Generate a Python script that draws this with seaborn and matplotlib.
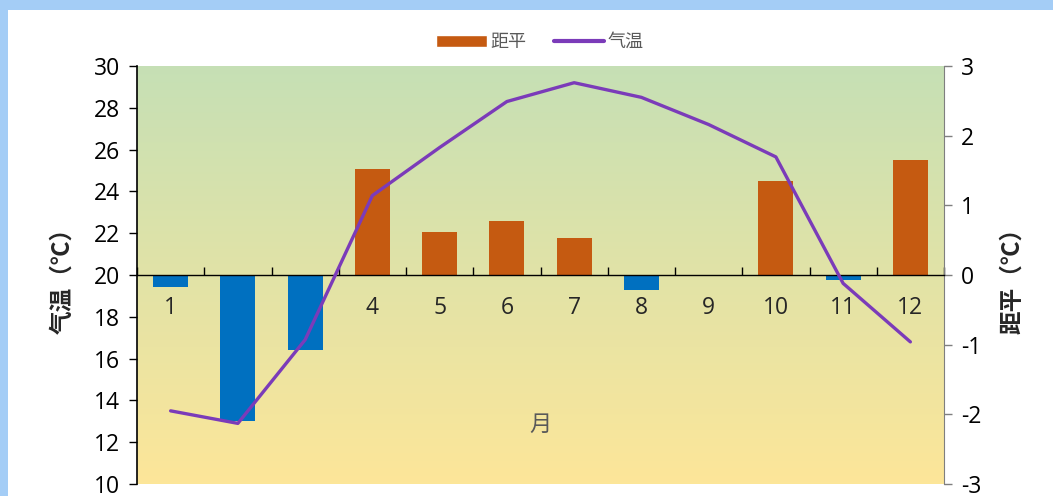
import numpy as np
import pandas as pd
import matplotlib
matplotlib.use("Agg")
import matplotlib.pyplot as plt
import seaborn as sns
from matplotlib.patches import Rectangle
from matplotlib.lines import Line2D
from matplotlib.patches import Patch

months = [str(m) for m in range(1, 13)]
temp = [13.5, 12.9, 16.9, 23.8, 26.1, 28.3, 29.2, 28.5, 27.2, 25.65, 19.6, 16.8]
anomaly = [-0.17, -2.10, -1.07, 1.52, 0.62, 0.77, 0.53, -0.22, 0.0, 1.35, -0.07, 1.65]

df = pd.DataFrame({"month": months, "temp": temp, "anomaly": anomaly})
df["sign"] = np.where(df["anomaly"] >= 0, "pos", "neg")

sns.set_style("white")
plt.rcParams["font.family"] = ["Open Sans", "Noto Sans CJK SC", "DejaVu Sans"]
plt.rcParams["axes.unicode_minus"] = False

fig = plt.figure(figsize=(10.53, 4.96), dpi=100, facecolor="#a4cdf6")
fig.patches.append(Rectangle((8 / 1053, 0), 1 - 8 / 1053, 1 - 10 / 496,
                             transform=fig.transFigure, facecolor="white",
                             edgecolor="none", zorder=-10))

ax_bar = fig.add_axes([137 / 1053, 12 / 496, 807 / 1053, 418 / 496])
ax_bar.set_facecolor("none")

# gradient background: green at top, yellow at bottom
grad = np.linspace(0, 1, 256).reshape(-1, 1)
top = np.array([0.776, 0.878, 0.710])
bot = np.array([0.992, 0.902, 0.600])
img = top[None, None, :] * (1 - grad[:, :, None]) + bot[None, None, :] * grad[:, :, None]
ax_bar.imshow(img, extent=[0, 1, 0, 1], transform=ax_bar.transAxes,
              aspect="auto", zorder=0)

sns.barplot(data=df, x="month", y="anomaly", hue="sign",
            palette={"pos": "#c55a11", "neg": "#0070c0"}, saturation=1,
            width=0.52, dodge=False, legend=False, linewidth=0,
            ax=ax_bar, zorder=2)
ax_bar.set_xlim(-0.5, 11.5)
ax_bar.set_ylim(-3, 3)

ax_line = ax_bar.twinx()
sns.lineplot(x=np.arange(12), y=df["temp"], color="#7b3bb9", linewidth=2.4,
             ax=ax_line, zorder=3)
ax_line.set_ylim(10, 30)
ax_line.set_xlim(-0.5, 11.5)

# swap sides: temperature on the left, anomaly on the right
ax_line.yaxis.tick_left()
ax_line.yaxis.set_label_position("left")
ax_bar.yaxis.tick_right()
ax_bar.yaxis.set_label_position("right")

ax_line.set_yticks(np.arange(10, 31, 2))
ax_bar.set_yticks(np.arange(-3, 4, 1))
ax_line.tick_params(axis="y", direction="out", length=6, width=1,
                    labelsize=16.5, pad=6, colors="black", left=True, right=False)
ax_bar.tick_params(axis="y", direction="out", length=6, width=1,
                   labelsize=16.5, pad=6, color="#7f7f7f", labelcolor="black",
                   left=False, right=True)

for s in ["top", "right", "bottom"]:
    ax_line.spines[s].set_visible(False)
ax_line.spines["left"].set_color("black")
ax_line.spines["left"].set_linewidth(1.2)
for s in ["top", "left"]:
    ax_bar.spines[s].set_visible(False)
ax_bar.spines["right"].set_color("#7f7f7f")
ax_bar.spines["bottom"].set_position(("data", 0))
ax_bar.spines["bottom"].set_color("black")
ax_bar.spines["bottom"].set_linewidth(1)

# category axis on zero line
ax_line.set_xticks([])
ax_bar.set_xticks(np.arange(-0.5, 12, 1))
ax_bar.set_xticklabels([])
ax_bar.set_xticks(np.arange(12), minor=True)
ax_bar.set_xticklabels(months, minor=True)
ax_bar.tick_params(axis="x", which="major", direction="in", length=6,
                   width=1, color="black", bottom=True)
ax_bar.tick_params(axis="x", which="minor", length=0, labelsize=16.5, pad=15)

ax_bar.set_xlabel("月", fontsize=16, color="#595959")
ax_bar.xaxis.set_label_coords(0.5, 0.165)

ax_line.set_ylabel("气温（℃）", fontsize=17, fontweight="bold",
                   family=["Noto Sans CJK SC", "DejaVu Sans"], labelpad=14)
ax_bar.set_ylabel("距平（℃）", fontsize=17, fontweight="bold",
                  family=["Noto Sans CJK SC", "DejaVu Sans"], rotation=90,
                  labelpad=14)

handles = [Patch(facecolor="#c55a11", label="距平"),
           Line2D([0], [0], color="#7b3bb9", linewidth=3, label="气温")]
fig.legend(handles=handles, loc="center", bbox_to_anchor=(0.513, 0.915),
           ncol=2, frameon=False, handlelength=2.8,
           handletextpad=0.2, columnspacing=1.5, labelcolor="#595959",
           prop={"family": ["Noto Sans CJK SC", "DejaVu Sans"], "size": 13})

fig.savefig("out.png", dpi=100, facecolor=fig.get_facecolor())
